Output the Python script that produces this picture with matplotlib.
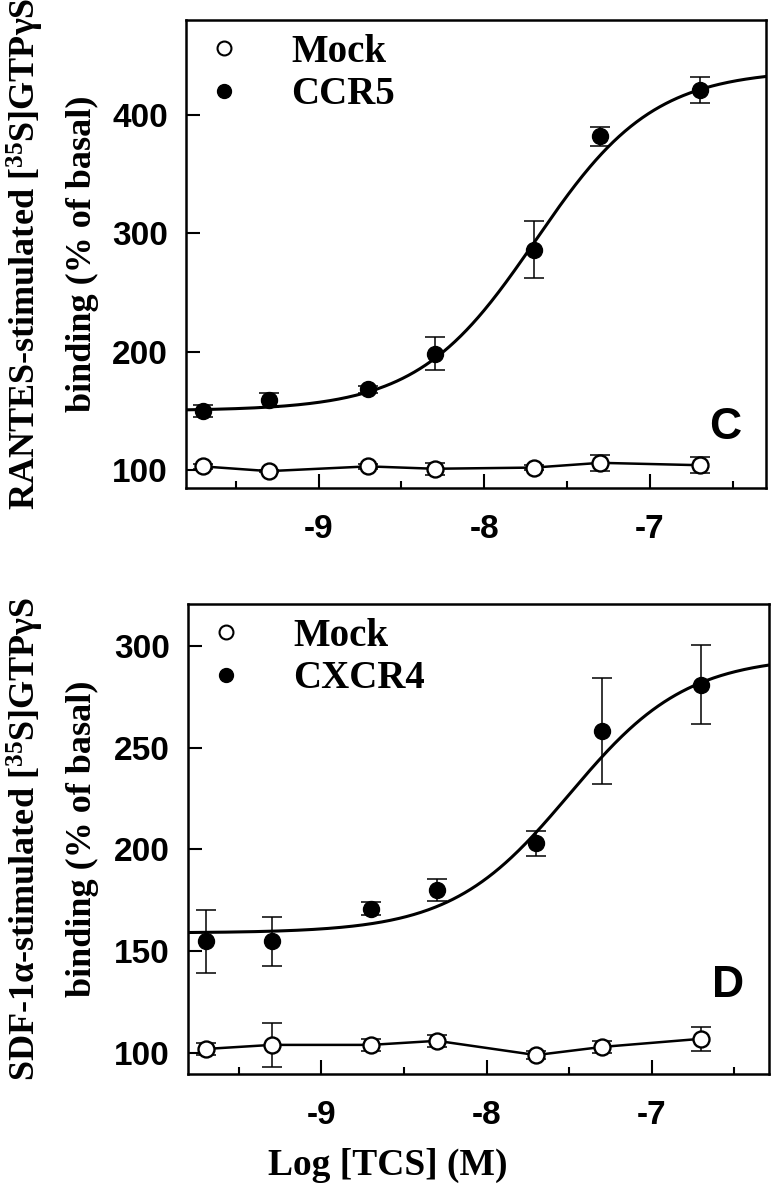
import matplotlib
matplotlib.use('Agg')
import matplotlib.pyplot as plt
import numpy as np
from matplotlib.lines import Line2D

plt.rcParams['mathtext.default'] = 'regular'
plt.rcParams['axes.unicode_minus'] = False
plt.rcParams['font.family'] = ['Liberation Sans', 'DejaVu Sans']
plt.rcParams['font.weight'] = 'bold'

# ---------------- data ----------------
log_conc = [-9.7, -9.3, -8.7, -8.3, -7.7, -7.3, -6.7]

# Panel C (RANTES / CCR5)
ccr5_mean = [150, 159, 168, 198, 286, 382, 421]
ccr5_err = [5, 6, 3, 14, 24, 8, 11]
mock_c_mean = [103, 99, 103, 101, 102, 106, 104]
mock_c_err = [2, 1, 2, 5, 2, 7, 7]
fit_c_bottom, fit_c_top, fit_c_logec50, fit_c_hill = 150, 438, -7.69, 1.22

# Panel D (SDF-1a / CXCR4)
cxcr4_mean = [155, 155, 171, 180, 203, 258, 281]
cxcr4_err = [15.5, 12, 3, 5.5, 6.3, 26, 19.5]
mock_d_mean = [102, 104, 104, 106, 99, 103, 107]
mock_d_err = [3, 11, 3, 3, 2, 3, 6]
fit_d_bottom, fit_d_top, fit_d_logec50, fit_d_hill = 159, 295, -7.50, 1.22

x_ticks = [-9, -8, -7]
x_tick_labels = ['-9', '-8', '-7']
x_minor_ticks = [-9.5, -8.5, -7.5, -6.5]
y_ticks_c = [100, 200, 300, 400]
y_ticks_d = [100, 150, 200, 250, 300]

SERIF = ['Liberation Serif', 'DejaVu Serif']


def hill(x, b, t, ec, h):
    return b + (t - b) / (1 + 10 ** ((ec - x) * h))


fig = plt.figure(figsize=(7.76, 12), dpi=100)
ax1 = fig.add_axes([186 / 776, 1 - 487.7 / 1200, 580 / 776, 467.7 / 1200])
ax2 = fig.add_axes([188 / 776, 1 - 1074 / 1200, 581 / 776, 470 / 1200])


def draw(ax, mean, err, mock, mock_err, fit, xlim, ylim, yticks, label, letter, letter_pos):
    xs = np.linspace(xlim[0], xlim[1], 400)
    ax.plot(xs, hill(xs, *fit), color='black', lw=2.2, zorder=2)
    ax.plot(log_conc, mock, color='black', lw=1.8, zorder=2)
    ax.errorbar(log_conc, mean, yerr=err, fmt='none', ecolor='black',
                elinewidth=1.1, capsize=7, capthick=1.1, zorder=3)
    ax.errorbar(log_conc, mock, yerr=mock_err, fmt='none', ecolor='black',
                elinewidth=1.1, capsize=7, capthick=1.1, zorder=3)
    ax.plot(log_conc, mean, 'o', color='black', ms=11.5, zorder=4)
    ax.plot(log_conc, mock, 'o', mfc='white', mec='black', mew=1.7, ms=11.5, zorder=4)
    ax.set_xlim(*xlim)
    ax.set_ylim(*ylim)
    ax.set_xticks(x_ticks)
    ax.set_xticklabels(x_tick_labels)
    ax.set_xticks(x_minor_ticks, minor=True)
    ax.set_yticks(yticks)
    ax.set_yticklabels([str(v) for v in yticks])
    ax.tick_params(axis='both', which='major', direction='in', length=10, width=1.5,
                   labelsize=24)
    ax.tick_params(axis='x', which='major', pad=19)
    ax.tick_params(axis='y', which='major', pad=13)
    ax.tick_params(axis='x', which='minor', direction='in', length=5, width=1.5)
    for s in ax.spines.values():
        s.set_linewidth(1.8)
    handles = [Line2D([], [], marker='o', ls='none', mfc='white', mec='black', mew=1.5, ms=10),
               Line2D([], [], marker='o', ls='none', color='black', ms=10)]
    ax.legend(handles, ['Mock', label], loc='upper left', bbox_to_anchor=(0.032, 0.971),
              frameon=False, borderaxespad=0, borderpad=0, handlelength=1.0,
              handletextpad=1.22, labelspacing=0.15,
              prop=dict(family=SERIF, weight='bold', size=28))
    ax.text(letter_pos[0], letter_pos[1], letter, transform=ax.transAxes, ha='center',
            va='center', fontsize=32, fontweight='bold')


draw(ax1, ccr5_mean, ccr5_err, mock_c_mean, mock_c_err,
     (fit_c_bottom, fit_c_top, fit_c_logec50, fit_c_hill),
     (-9.80, -6.30), (85, 480), y_ticks_c, 'CCR5', 'C', (0.929, 0.128))
draw(ax2, cxcr4_mean, cxcr4_err, mock_d_mean, mock_d_err,
     (fit_d_bottom, fit_d_top, fit_d_logec50, fit_d_hill),
     (-9.807, -6.29), (89.7, 320.6), y_ticks_d, 'CXCR4', 'D', (0.929, 0.189))

lab_kw = dict(rotation=90, ha='center', va='center', family=SERIF, weight='bold', size=26)
fig.text(25 / 776, 1 - 254 / 1200, 'RANTES-stimulated [$^{35}$S]GTPγS', **lab_kw)
fig.text(82 / 776, 1 - 254 / 1200, 'binding (% of basal)', **lab_kw)
fig.text(25 / 776, 1 - 839 / 1200, 'SDF-1α-stimulated [$^{35}$S]GTPγS', **lab_kw)
fig.text(82 / 776, 1 - 839 / 1200, 'binding (% of basal)', **lab_kw)
fig.text(388 / 776, 1 - 1165 / 1200, 'Log [TCS] (M)', ha='center', va='center',
         family=SERIF, weight='bold', size=27)

fig.savefig('out.png', dpi=100)
